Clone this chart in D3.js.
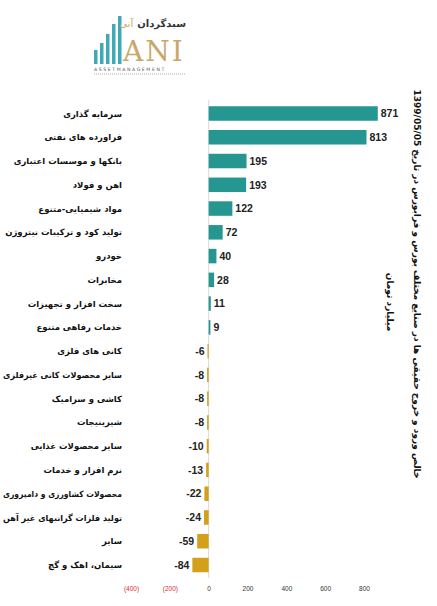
<!DOCTYPE html>
<html>
<head>
<meta charset="utf-8">
<script src="https://cdn.jsdelivr.net/npm/d3@7"></script>
<style>
  body { margin: 0; background: #fff; }
  svg { display: block; }
</style>
</head>
<body>
<svg id="chart"></svg>
<script>
// categories and values (billion toman)
var categories = [
  "سرمایه گذاری",
  "فراورده های نفتی",
  "بانکها و موسسات اعتباری",
  "اهن و فولاد",
  "مواد شیمیایی-متنوع",
  "تولید کود و ترکیبات نیتروژن",
  "خودرو",
  "مخابرات",
  "سخت افزار و تجهیزات",
  "خدمات رفاهی متنوع",
  "کانی های فلزی",
  "سایر محصولات کانی غیرفلزی",
  "کاشی و سرامیک",
  "شیرینیجات",
  "سایر محصولات غذایی",
  "نرم افزار و خدمات",
  "محصولات کشاورزی و دامپروری",
  "تولید فلزات گرانبهای غیر آهن",
  "سایر",
  "سیمان، اهک و گچ"
];
var values = [871, 813, 195, 193, 122, 72, 40, 28, 11, 9, -6, -8, -8, -8, -10, -13, -22, -24, -59, -84];
var tickValues = [-400, -200, 0, 200, 400, 600, 800];

var title = "خالص ورود و خروج حقیقی ها در صنایع مختلف  بورس و فرابورس در تاریخ 1399/05/05";
var subtitle = "میلیارد تومان";

var width = 437, height = 606;
var posColor = "#269690", negColor = "#d3a01a";

var svg = d3.select("#chart").attr("width", width).attr("height", height);

var data = categories.map(function(c, i){ return {name: c, value: values[i]}; });

// scales
var x = d3.scaleLinear().domain([-400, 800]).range([131, 364]);
var y = d3.scaleBand().domain(categories).range([101.5, 577]).paddingInner(0.39).paddingOuter(0.2);

// zero line
svg.append("line")
  .attr("x1", x(0)).attr("x2", x(0))
  .attr("y1", 100).attr("y2", 578)
  .attr("stroke", "#d9d9d9").attr("stroke-width", 1);

// bars
svg.append("g").selectAll("rect")
  .data(data)
  .enter().append("rect")
    .attr("x", function(d){ return x(Math.min(0, d.value)); })
    .attr("y", function(d){ return y(d.name); })
    .attr("width", function(d){ return Math.abs(x(d.value) - x(0)); })
    .attr("height", y.bandwidth())
    .attr("fill", function(d){ return d.value >= 0 ? posColor : negColor; });

// value labels
svg.append("g").selectAll("text")
  .data(data)
  .enter().append("text")
    .attr("x", function(d){ return d.value >= 0 ? x(d.value) + 3 : x(d.value) - 3; })
    .attr("y", function(d){ return y(d.name) + y.bandwidth() / 2; })
    .attr("dy", "0.36em")
    .attr("text-anchor", function(d){ return d.value >= 0 ? "start" : "end"; })
    .attr("font-family", "'Liberation Sans', Arial, sans-serif")
    .attr("font-weight", "bold")
    .attr("font-size", 10.5)
    .attr("fill", "#222")
    .text(function(d){ return d.value; });

// category labels (rtl: "start" anchors the right edge)
var labelMax = 119;
svg.append("g").selectAll("text")
  .data(data)
  .enter().append("text")
    .attr("x", 122)
    .attr("y", function(d){ return y(d.name) + y.bandwidth() / 2; })
    .attr("dy", "0.36em")
    .attr("text-anchor", "start")
    .attr("direction", "rtl")
    .attr("font-family", "'DejaVu Sans', sans-serif")
    .attr("font-weight", "bold")
    .attr("font-size", 8.5)
    .attr("fill", "#111")
    .text(function(d){ return d.name; })
    .each(function(){
      // squeeze the long ones so they fit left of the bars
      if (this.getComputedTextLength() > labelMax) {
        d3.select(this).attr("textLength", labelMax).attr("lengthAdjust", "spacingAndGlyphs");
      }
    });

// bottom axis
var xAxis = d3.axisBottom(x)
  .tickValues(tickValues)
  .tickSize(0)
  .tickFormat(function(d){ return d < 0 ? "(" + Math.abs(d) + ")" : d; });

var axisG = svg.append("g")
  .attr("transform", "translate(0,583)")
  .call(xAxis);
axisG.select(".domain").remove();
axisG.selectAll("text")
  .attr("font-family", "'Liberation Sans', Arial, sans-serif")
  .attr("font-size", 6.5)
  .attr("fill", function(d){ return d < 0 ? "#e03030" : "#333"; });

// vertical title
svg.append("text")
  .attr("transform", "translate(414,284) rotate(90)")
  .attr("text-anchor", "middle")
  .attr("direction", "rtl")
  .attr("font-family", "'DejaVu Sans', sans-serif")
  .attr("font-weight", "bold")
  .attr("font-size", 9)
  .attr("fill", "#111")
  .text(title);

svg.append("text")
  .attr("transform", "translate(387,302) rotate(90)")
  .attr("text-anchor", "middle")
  .attr("direction", "rtl")
  .attr("font-family", "'DejaVu Sans', sans-serif")
  .attr("font-weight", "bold")
  .attr("font-size", 9)
  .attr("fill", "#111")
  .text(subtitle);

// logo
var logo = svg.append("g").attr("class", "logo");
var logoBars = [[94, 50, 14], [100, 43, 21], [106, 34, 30], [112, 24, 40], [118, 16, 48]];
logoBars.forEach(function(b){
  logo.append("rect").attr("x", b[0]).attr("y", b[1]).attr("width", 3.5).attr("height", b[2]).attr("fill", "#3fa9b5");
});
logo.append("text")
  .attr("x", 123).attr("y", 61)
  .attr("font-family", "'DejaVu Serif', serif")
  .attr("font-size", 28)
  .attr("fill", "#c9a86a")
  .attr("letter-spacing", 2)
  .text("ANI");
var brand = logo.append("text")
  .attr("x", 186).attr("y", 27)
  .attr("text-anchor", "start")
  .attr("direction", "rtl")
  .attr("font-family", "'DejaVu Sans', sans-serif")
  .attr("font-weight", "bold")
  .attr("font-size", 10)
  .attr("fill", "#333")
  .text("سبدگردان");
var brandW = brand.node().getComputedTextLength();
logo.append("text")
  .attr("x", 186 - brandW - 4).attr("y", 27)
  .attr("text-anchor", "start")
  .attr("direction", "rtl")
  .attr("font-family", "'DejaVu Sans', sans-serif")
  .attr("font-size", 10)
  .attr("fill", "#c9a86a")
  .text("آنی");
logo.append("text")
  .attr("x", 94).attr("y", 71)
  .attr("font-family", "'DejaVu Sans', sans-serif")
  .attr("font-size", 4.6)
  .attr("letter-spacing", 1.6)
  .attr("fill", "#555")
  .text("ASSETMANAGEMENT");
logo.append("line")
  .attr("x1", 94).attr("x2", 186).attr("y1", 74).attr("y2", 74)
  .attr("stroke", "#aaa").attr("stroke-width", 1).attr("stroke-dasharray", "1,1");
</script>
</body>
</html>
